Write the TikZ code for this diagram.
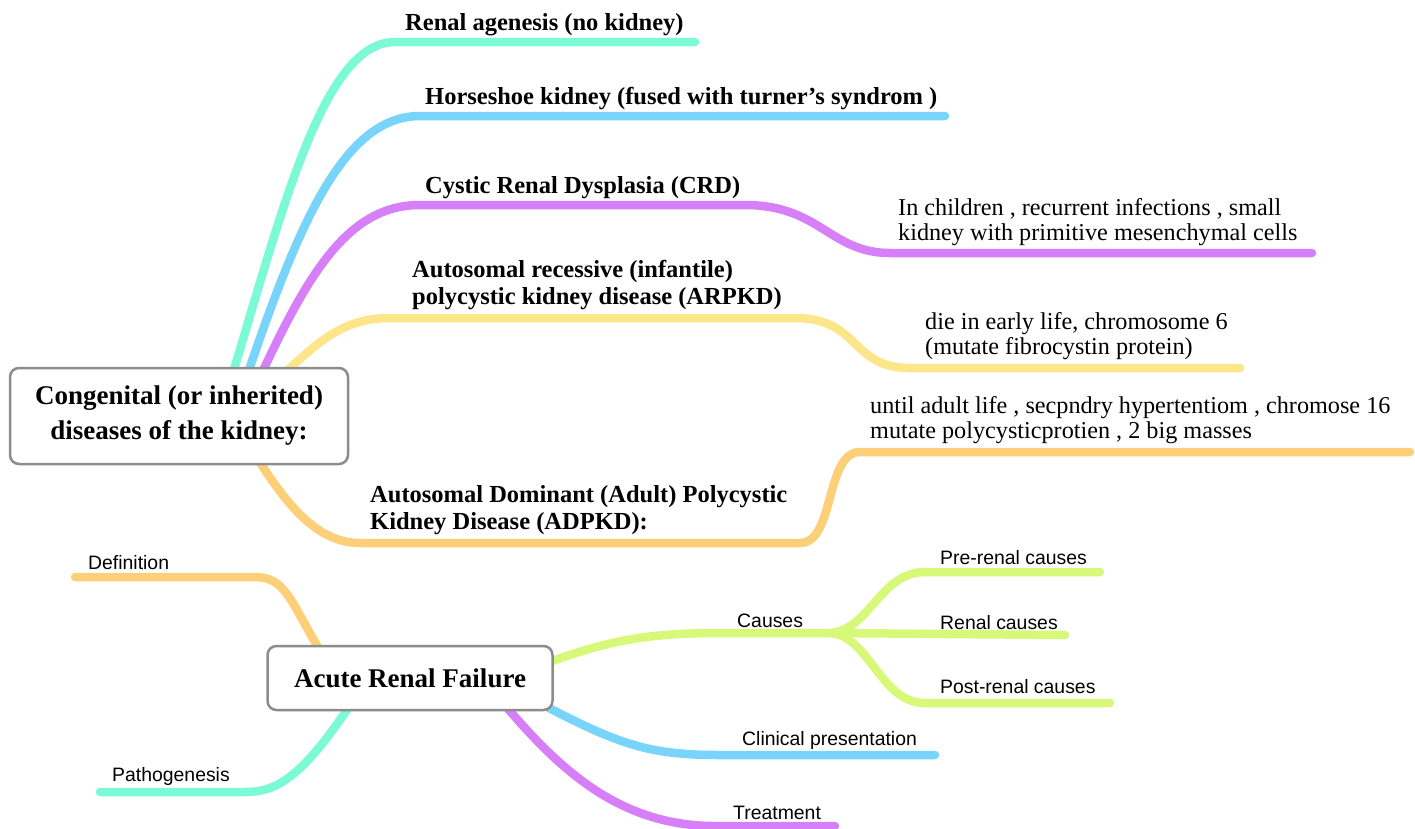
\documentclass[tikz,border=0pt]{standalone}
\usepackage{fontspec}
\setmainfont{Liberation Serif}
\setsansfont{Liberation Sans}
\usetikzlibrary{calc, positioning}

\definecolor{mteal}{HTML}{7CF9D5}
\definecolor{mblue}{HTML}{79D4FB}
\definecolor{mpurple}{HTML}{D77FF8}
\definecolor{myellow}{HTML}{FDE58A}
\definecolor{morange}{HTML}{FDCF78}
\definecolor{mlime}{HTML}{D8F87A}

\pgfdeclarelayer{bg}
\pgfsetlayers{bg,main}

\tikzset{
  rootbox/.style={draw=black!45, line width=2.5pt, rounded corners=9pt, fill=white,
    font=\fontsize{27}{35}\selectfont\bfseries, align=center, inner sep=0pt},
  branch/.style={line width=8.5pt, line cap=round},
  toplabel/.style={font=\fontsize{24.5}{27}\selectfont\bfseries, align=left, anchor=south west, inner sep=0pt},
  sublabel/.style={font=\fontsize{24.2}{25}\selectfont, align=left, anchor=south west, inner sep=0pt},
  leaf/.style={font=\sffamily\fontsize{19.4}{21}\selectfont, anchor=south west, inner sep=0pt},
}

\begin{document}
\begin{tikzpicture}[x=1pt, y=-1pt]
  \useasboundingbox (0,0) rectangle (1415,828);

  \node[rootbox, minimum width=338pt, minimum height=96pt] (cong) at (179,416)
    {Congenital (or inherited)\\diseases of the kidney:};
  \node[rootbox, minimum width=285pt, minimum height=64pt] (arf) at (410,678)
    {Acute Renal Failure};

  \node[toplabel] (agen) at (405,36) {Renal agenesis (no kidney)};
  \node[toplabel] (horse) at (425,110) {Horseshoe kidney (fused with turner's syndrom )};
  \node[toplabel] (crd) at (425,199) {Cystic Renal Dysplasia (CRD)};
  \node[toplabel] (arpkd) at (412,310) {Autosomal recessive (infantile)\\polycystic kidney disease (ARPKD)};
  \node[toplabel] (adpkd) at (370,535) {Autosomal Dominant (Adult) Polycystic\\Kidney Disease (ADPKD):};

  \node[sublabel] (crd_d) at (898,246) {In children , recurrent infections , small\\kidney with primitive mesenchymal cells};
  \node[sublabel] (arpkd_d) at (925,360) {die in early life, chromosome 6\\(mutate fibrocystin protein)};
  \node[sublabel] (adpkd_d) at (870,444) {until adult life , secpndry hypertentiom , chromose 16\\mutate polycysticprotien , 2 big masses};

  \node[leaf] (defn) at (88,570) {Definition};
  \node[leaf] (patho) at (112,786) {Pathogenesis};
  \node[leaf] (causes) at (737,628) {Causes};
  \node[leaf] (pre) at (940,565) {Pre-renal causes};
  \node[leaf] (ren) at (940,630) {Renal causes};
  \node[leaf] (post) at (940,694) {Post-renal causes};
  \node[leaf] (clin) at (742,750) {Clinical presentation};
  \node[leaf] (treat) at (733,820) {Treatment};

  \coordinate (c_hub) at (830,633);

  \begin{pgfonlayer}{bg}
    \draw[branch, mteal] ($(cong.north)+(54,6)$) .. controls (285,200) and (325,42) .. (395,42) -- (695,42);
    \draw[branch, mblue] ($(cong.north)+(69,6)$) .. controls (300,220) and (345,116) .. (420,116) -- (945,116);
    \draw[branch, mpurple] ($(cong.north)+(83,6)$) .. controls (310,270) and (350,205) .. (420,205) -- (745,205)
      .. controls (820,205) and (830,253) .. (890,253) -- (1312,253);
    \draw[branch, myellow] ($(cong.north)+(106,6)$) .. controls (320,340) and (345,318) .. (390,318) -- (795,318)
      .. controls (860,318) and (850,368) .. (910,368) -- (1240,368);
    \draw[branch, morange] ($(cong.south)+(79,-6)$) .. controls (290,510) and (320,543) .. (360,543) -- (800,543)
      .. controls (835,543) and (825,452) .. (860,452) -- (1410,452);

    \draw[branch, morange] ($(arf.north)+(-90,6)$) .. controls (290,600) and (285,577) .. (255,577) -- (75,577);
    \draw[branch, mteal] ($(arf.south)+(-60,-6)$) .. controls (300,780) and (275,792) .. (245,792) -- (100,792);
    \draw[branch, mlime] ($(arf.east)+(-4,-16)$) .. controls (610,640) and (650,633) .. (720,633) -- (c_hub);
    \draw[branch, mlime] (c_hub) .. controls (870,630) and (880,572) .. (925,572) -- (1100,572);
    \draw[branch, mlime] (c_hub) -- (1065,635);
    \draw[branch, mlime] (c_hub) .. controls (870,636) and (880,703) .. (925,703) -- (1110,703);
    \draw[branch, mblue] ($(arf.south east)+(-10,-6)$) .. controls (620,745) and (650,755) .. (720,755) -- (935,755);
    \draw[branch, mpurple] ($(arf.south)+(95,-6)$) .. controls (560,770) and (620,826) .. (715,826) -- (835,826);
  \end{pgfonlayer}
\end{tikzpicture}
\end{document}
